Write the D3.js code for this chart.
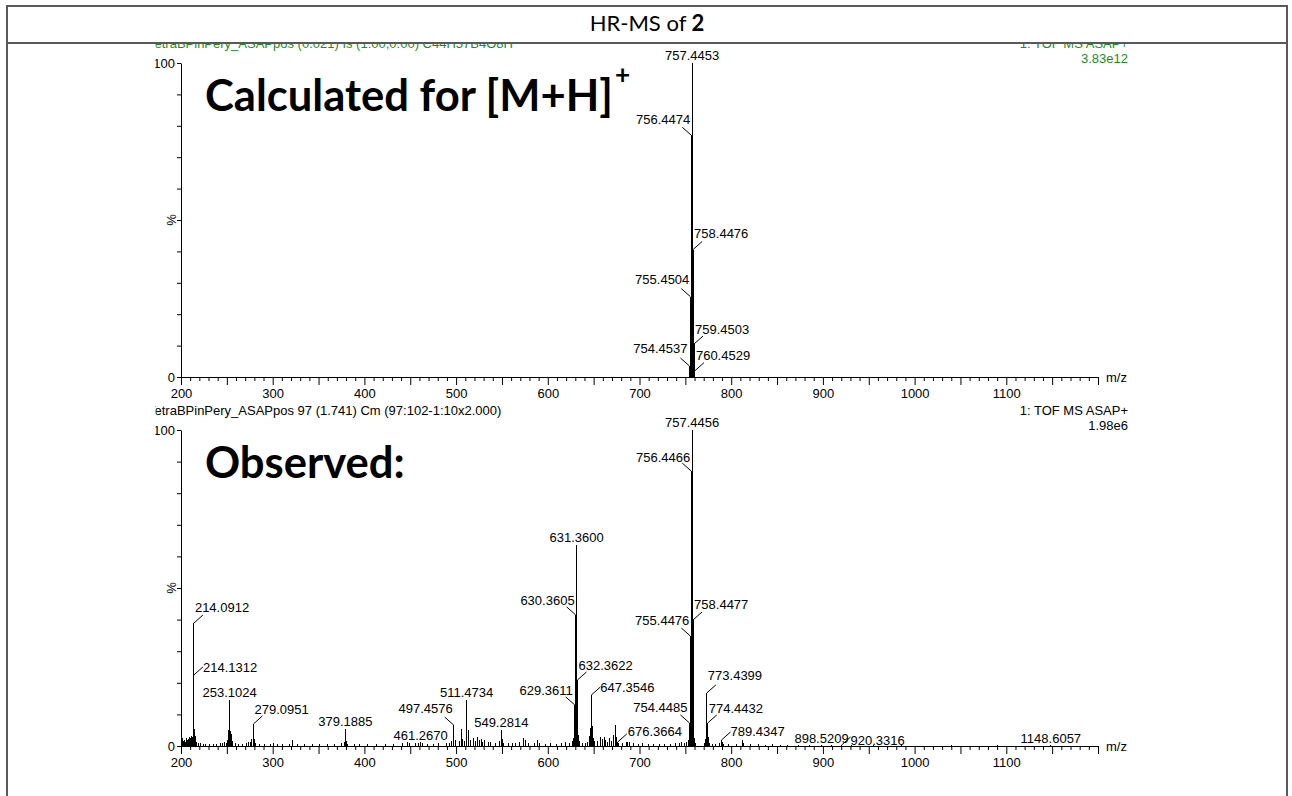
<!DOCTYPE html>
<html>
<head>
<meta charset="utf-8">
<script src="https://cdn.jsdelivr.net/npm/d3@7"></script>
<style>
  body { margin: 0; background: #fff; }
  svg text { font-family: "Liberation Sans", Arial, sans-serif; }
</style>
</head>
<body>
<div id="chart"></div>
<script>
// ---- data ----
const title = 'HR-MS of '
const titleBold = '2'

const xDomain = [200, 1200]
const xTickLabels = [200, 300, 400, 500, 600, 700, 800, 900, 1000, 1100]

// top: calculated isotope pattern (all peaks labelled)
const calcMz  = [754.4537, 755.4504, 756.4474, 757.4453, 758.4476, 759.4503, 760.4529]
const calcPct = [3.5, 25.6, 77, 100, 40.6, 10.5, 2]
const calcHeader = ['TetraBPinPery_ASAPpos (0.021) Is (1.00,0.00) C44H57B4O8H', '1: TOF MS ASAP+', '3.83e12']
const calcCaption = 'Calculated for [M+H]'

// bottom: observed spectrum, labelled peaks
const obsMz  = [214.0912, 214.1312, 253.1024, 279.0951, 379.1885, 461.2670, 497.4576, 511.4734,
  549.2814, 629.3611, 630.3605, 631.3600, 632.3622, 647.3546, 676.3664, 754.4485, 755.4476,
  756.4466, 757.4456, 758.4477, 773.4399, 774.4432, 789.4347, 898.5209, 920.3316, 1148.6057]
const obsPct = [38.9, 22.5, 14.6, 7.0, 5.4, 1.3, 6.6, 14.6,
  5.1, 13.0, 41.5, 63.6, 20.9, 16.1, 1.3, 7.3, 34.8,
  87, 100, 39.9, 16.8, 7.3, 1.9, 0.4, 0.3, 0.4]

// bottom: unlabelled small peaks [m/z, %]
const obsMinor = [
  [201.1, 1.2], [202.1, 2.4], [203.1, 1.5], [204.1, 2.0], [205.1, 1.3], [206.1, 2.6], [207.1, 1.8],
  [208.1, 2.2], [209.1, 3.0], [210.1, 2.4], [211.1, 3.1], [212.1, 2.7], [213.1, 3.4], [215.1, 5.5],
  [216.1, 3.2], [217.1, 1.4], [219.1, 0.8], [221.1, 0.9], [224.1, 0.6], [227.1, 0.7], [231.1, 0.5],
  [235.1, 0.6], [239.1, 0.7], [243.1, 0.9], [245.1, 1.1], [247.1, 1.2], [249.1, 1.0], [251.1, 2.0],
  [252.1, 5.2], [254.1, 4.6], [255.1, 3.8], [256.1, 1.6], [259.1, 0.8], [263.1, 0.6], [267.1, 0.7],
  [271.1, 0.9], [274.1, 1.2], [276.1, 1.4], [277.1, 2.2], [280.1, 2.1], [281.1, 1.0], [285.1, 0.6],
  [291.1, 0.7], [297.1, 0.6], [301.1, 0.9], [305.1, 0.6], [311.1, 0.5], [318.1, 0.7], [322.1, 1.9],
  [327.1, 0.6], [335.1, 0.6], [343.1, 0.5], [351.1, 0.6], [360.1, 0.5], [367.1, 0.6], [375.1, 0.8],
  [378.2, 1.2], [380.2, 1.5], [381.2, 0.7], [389.1, 0.5], [395.1, 0.6], [403.1, 0.7], [413.2, 0.6],
  [423.2, 0.5], [431.2, 0.7], [441.2, 0.9], [447.2, 1.4], [449.2, 1.1], [455.2, 0.8], [459.2, 0.9],
  [463.2, 0.9], [469.3, 0.7], [475.3, 0.6], [481.3, 0.9], [489.3, 0.8], [493.3, 1.1], [495.4, 1.5],
  [499.4, 1.8], [503.4, 1.6], [505.4, 5.4], [507.4, 2.2], [509.4, 1.5], [513.4, 5.0], [515.4, 1.8],
  [519.3, 2.4], [521.3, 1.6], [523.3, 2.8], [525.3, 1.8], [527.3, 2.2], [529.3, 1.2], [531.3, 1.8],
  [535.3, 1.4], [537.3, 1.2], [543.3, 0.9], [547.3, 1.7], [550.3, 2.1], [551.3, 1.0], [557.3, 0.8],
  [561.3, 0.9], [565.3, 1.1], [569.3, 1.4], [573.3, 2.4], [575.3, 1.9], [579.3, 0.8], [585.3, 1.0],
  [589.3, 2.0], [591.3, 1.0], [597.3, 0.7], [603.3, 0.8], [609.3, 0.7], [615.3, 0.9], [619.3, 1.2],
  [623.3, 1.0], [627.4, 1.5], [628.4, 2.6], [633.4, 3.5], [634.4, 1.5], [637.3, 0.9], [641.3, 1.1],
  [643.3, 1.4], [645.3, 3.2], [646.3, 5.8], [648.4, 6.2], [649.4, 2.4], [651.4, 1.6], [654.4, 1.5],
  [657.4, 3.0], [659.4, 2.2], [661.4, 2.8], [662.4, 1.8], [665.4, 1.4], [667.4, 2.5], [669.4, 1.6],
  [671.4, 3.5], [673.4, 6.5], [674.4, 2.8], [677.4, 1.0], [681.4, 0.9], [685.4, 1.3], [687.4, 1.4],
  [689.4, 1.2], [693.4, 0.8], [699.4, 0.7], [703.4, 0.9], [709.4, 0.6], [715.4, 0.6], [721.4, 0.6],
  [727.4, 0.7], [733.4, 0.6], [739.4, 0.8], [743.4, 1.1], [745.4, 1.4], [749.4, 0.9], [751.4, 1.2],
  [753.4, 2.0], [759.4, 10.0], [760.4, 2.5], [761.4, 1.0], [771.4, 1.0], [772.4, 2.2], [775.4, 3.0],
  [776.4, 1.0], [779.4, 0.7], [783.4, 0.6], [787.4, 0.9], [790.4, 1.2], [791.4, 0.6], [797.4, 0.7],
  [805.4, 0.6], [812.5, 1.8], [813.5, 0.8], [821.5, 0.5], [829.5, 0.6], [837.5, 0.4], [845.5, 0.5],
  [853.5, 0.4], [861.5, 0.4], [873.5, 0.4], [885.5, 0.3], [909.5, 0.3], [931.5, 0.3], [955.5, 0.3],
  [985.5, 0.3], [1040.6, 0.3], [1090.6, 0.3]
]
const obsHeader = ['TetraBPinPery_ASAPpos 97 (1.741) Cm (97:102-1:10x2.000)', '1: TOF MS ASAP+', '1.98e6']
const obsCaption = 'Observed:'

// ---- label placement (pixel offsets of the label from the peak tip) ----
const labelNudge = {
  '757.4453': [0, -3], '756.4474': [-1, -11], '758.4476': [1, -12], '755.4504': [-1, -13],
  '759.4503': [1, -10], '754.4537': [-2, -13], '760.4529': [1, -11],
  '214.0912': [1, -11], '214.1312': [9, -3], '253.1024': [0, -3], '279.0951': [1, -10],
  '379.1885': [0, -3], '461.2670': [0, -2], '497.4576': [-1, -12], '511.4734': [0, -3],
  '549.2814': [0, -3], '629.3611': [-2, -10], '630.3605': [-1, -10], '631.3600': [0, -3],
  '632.3622': [1, -10], '647.3546': [9, -3], '676.3664': [10, -6], '754.4485': [-2, -11],
  '755.4476': [-1, -11], '756.4466': [-1, -9], '757.4456': [0, -3], '758.4477': [1, -11],
  '773.4399': [1, -13], '774.4432': [1, -10], '789.4347': [9, -4], '898.5209': [0, -2],
  '920.3316': [9, 0], '1148.6057': [0, -2]
}

const GREEN = '#1e8c1e'
const BIG_FONT = 'Lato, "Open Sans", sans-serif'

class SpectrumPanel {
  constructor (parent, y0, y100) {
    this.parent = parent
    this.xs = d3.scaleLinear().domain(xDomain).range([181, 1098])
    this.ys = d3.scaleLinear().domain([0, 100]).range([y0, y100])
    this.fontSize = 13
    this.headerColor = '#000'
  }

  draw (peaks, labelled, header, caption, bigSize) {
    this._drawHeader(header)
    this._drawAxes()
    this._drawPeaks(peaks.concat(labelled))
    this._drawLabels(labelled)
    this._drawCaption(caption, bigSize)
  }

  _drawHeader (header) {
    let yTop = this.ys(100)
    let g = this.parent.append('g')
      .attr('font-size', this.fontSize)
      .attr('fill', this.headerColor)
    g.append('text').attr('x', 148).attr('y', yTop - 15).text(header[0])
    g.append('text').attr('x', 1128).attr('y', yTop - 15).attr('text-anchor', 'end').text(header[1])
    g.append('text').attr('x', 1128).attr('y', yTop).attr('text-anchor', 'end').text(header[2])
  }

  _drawAxes () {
    let y0 = this.ys(0)
    let xAxis = this.parent.append('g')
      .attr('transform', `translate(0,${y0})`)
      .call(d3.axisBottom(this.xs)
        .tickValues(d3.range(xDomain[0], xDomain[1] + 1, 10))
        .tickSizeOuter(0)
        .tickFormat(d => xTickLabels.includes(d) ? d : ''))
    xAxis.attr('font-size', this.fontSize)
    xAxis.selectAll('.tick line').attr('y2', d => d % 50 === 0 ? 8 : 4)
    xAxis.selectAll('.tick text').attr('y', 21).attr('dy', null)
    xAxis.append('text')
      .attr('x', 1106).attr('y', 0).attr('dy', '0.35em')
      .attr('fill', '#000').attr('text-anchor', 'start')
      .text('m/z')

    let yAxis = this.parent.append('g')
      .attr('transform', `translate(${this.xs(xDomain[0])},0)`)
      .call(d3.axisLeft(this.ys)
        .tickValues(d3.range(0, 101, 10))
        .tickSize(4)
        .tickSizeOuter(0)
        .tickFormat(d => (d === 0 || d === 100) ? d : ''))
    yAxis.attr('font-size', this.fontSize)
    yAxis.selectAll('.tick text').attr('x', -6)

    this.parent.append('text')
      .attr('transform', `translate(171,${this.ys(50)}) rotate(-90)`)
      .attr('text-anchor', 'middle')
      .attr('dy', '0.35em')
      .attr('font-size', this.fontSize)
      .text('%')
  }

  _drawPeaks (peaks) {
    let base = this.ys(0)
    this.parent.append('g')
      .attr('shape-rendering', 'crispEdges')
      .selectAll('line')
      .data(peaks)
      .join('line')
      .attr('x1', d => this.xs(d.mz))
      .attr('x2', d => this.xs(d.mz))
      .attr('y1', base)
      .attr('y2', d => this.ys(d.pct))
      .attr('stroke', '#000')
      .attr('stroke-width', 1)
  }

  _drawLabels (labelled) {
    let g = this.parent.append('g').attr('font-size', this.fontSize)
    labelled.forEach(d => {
      let [dx, dy] = labelNudge[d.mz.toFixed(4)] || [0, -3]
      let x = this.xs(d.mz)
      let y = this.ys(d.pct)
      let side = Math.sign(dx)
      if (side !== 0) {
        g.append('line')
          .attr('x1', x).attr('y1', y)
          .attr('x2', x + side * 9).attr('y2', y - 8)
          .attr('stroke', '#000').attr('stroke-width', 1)
      }
      g.append('text')
        .attr('x', x + dx)
        .attr('y', y + dy)
        .attr('text-anchor', side > 0 ? 'start' : side < 0 ? 'end' : 'middle')
        .text(d.mz.toFixed(4))
    })
  }

  _drawCaption (caption, bigSize) {
    let t = this.parent.append('text')
      .attr('x', 205)
      .attr('y', this.ys(100) + 48)
      .style('font-family', BIG_FONT)
      .style('font-weight', 700)
      .style('font-size', bigSize + 'px')
      .text(caption.text)
    if (caption.sup) {
      t.append('tspan')
        .attr('dy', -0.62 * bigSize)
        .attr('dx', 2)
        .style('font-size', (bigSize * 0.6) + 'px')
        .text(caption.sup)
    }
  }
}

// ---- page ----
const svg = d3.select('#chart')
  .append('svg')
  .attr('width', 1292)
  .attr('height', 796)

// the whole figure sits in a table cell with a title row
svg.append('rect')
  .attr('x', 7).attr('y', 6)
  .attr('width', 1280).attr('height', 820)
  .attr('fill', 'none')
  .attr('stroke', '#595959')
  .attr('stroke-width', 2)
svg.append('line')
  .attr('x1', 7).attr('x2', 1287)
  .attr('y1', 43).attr('y2', 43)
  .attr('stroke', '#595959')
  .attr('stroke-width', 2)

let titleText = svg.append('text')
  .attr('x', 647).attr('y', 31)
  .attr('text-anchor', 'middle')
  .style('font-family', BIG_FONT)
  .style('font-size', '22px')
  .text(title)
titleText.append('tspan').style('font-weight', 700).text(titleBold)

// the spectrum image is cropped at its left and top edge
svg.append('clipPath').attr('id', 'crop')
  .append('rect')
  .attr('x', 155.5).attr('y', 44)
  .attr('width', 1130).attr('height', 760)
let plot = svg.append('g').attr('clip-path', 'url(#crop)')

// fit the big caption size to the width it takes in the picture
let probe = svg.append('text')
  .style('font-family', BIG_FONT)
  .style('font-weight', 700)
  .style('font-size', '48px')
  .text(calcCaption)
let bigSize = 48 * 408 / probe.node().getComputedTextLength()
probe.remove()

let calcPeaks = calcMz.map((mz, i) => ({ mz: mz, pct: calcPct[i] }))
let obsPeaks = obsMz.map((mz, i) => ({ mz: mz, pct: obsPct[i] }))
let minorPeaks = obsMinor.map(d => ({ mz: d[0], pct: d[1] }))

let calcPanel = new SpectrumPanel(plot, 377, 63)
calcPanel.headerColor = GREEN
calcPanel.draw([], calcPeaks, calcHeader, { text: calcCaption, sup: '+' }, bigSize)

let obsPanel = new SpectrumPanel(plot, 746, 430)
obsPanel.draw(minorPeaks, obsPeaks, obsHeader, { text: obsCaption }, bigSize)
</script>
</body>
</html>
